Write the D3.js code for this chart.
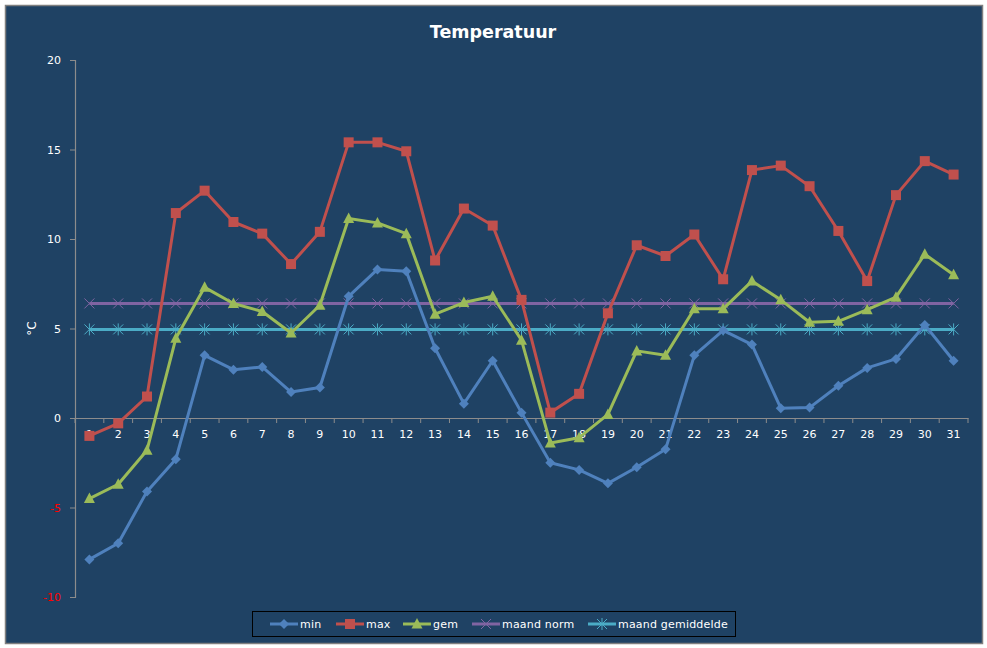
<!DOCTYPE html>
<html>
<head>
<meta charset="utf-8">
<script src="https://cdn.jsdelivr.net/npm/d3@7"></script>
<style>
  body { margin: 0; background: #fff; }
  svg text { font-family: "DejaVu Sans", Verdana, sans-serif; fill: #fff; }
</style>
</head>
<body>
<div id="chart"></div>
<script>
// Temperatuur per dag van de maand
const days = d3.range(1, 32).map(String);
const minTemp = [-7.9, -7.0, -4.1, -2.3, 3.5, 2.7, 2.85, 1.45, 1.7, 6.8, 8.3, 8.2, 3.9, 0.8, 3.2, 0.3,
    -2.5, -2.9, -3.65, -2.75, -1.75, 3.5, 4.9, 4.1, 0.55, 0.58, 1.8, 2.8, 3.3, 5.2, 3.2];
const maxTemp = [-1.0, -0.3, 1.2, 11.45, 12.7, 10.95, 10.3, 8.6, 10.4, 15.4, 15.4, 14.9, 8.8, 11.7, 10.75, 6.6,
    0.3, 1.35, 5.85, 9.65, 9.05, 10.25, 7.75, 13.85, 14.1, 12.95, 10.45, 7.65, 12.45, 14.35, 13.6];
const gemTemp = [-4.5, -3.7, -1.8, 4.45, 7.3, 6.4, 5.95, 4.75, 6.3, 11.15, 10.9, 10.3, 5.8, 6.45, 6.8, 4.35,
    -1.4, -1.1, 0.2, 3.75, 3.5, 6.1, 6.1, 7.65, 6.6, 5.35, 5.4, 6.05, 6.75, 9.15, 8.0];
const maandNorm = days.map(() => 6.4);
const maandGem = days.map(() => 4.95);
const yTicks = [-10, -5, 0, 5, 10, 15, 20];

const series = [
    { name: "min", values: minTemp, color: "#4F81BD", marker: "diamond" },
    { name: "max", values: maxTemp, color: "#C0504D", marker: "square" },
    { name: "gem", values: gemTemp, color: "#9BBB59", marker: "triangle" },
    { name: "maand norm", values: maandNorm, color: "#8064A2", marker: "cross" },
    { name: "maand gemiddelde", values: maandGem, color: "#4BACC6", marker: "star" }
];

const W = 987, H = 648;
const svg = d3.select("#chart").append("svg").attr("width", W).attr("height", H);

svg.append("rect")
    .attr("x", 5.5).attr("y", 5.5).attr("width", 977).attr("height", 638)
    .attr("fill", "#1F4264").attr("stroke", "#7F7F7F").attr("stroke-width", 1.5);

svg.append("text")
    .attr("x", 493).attr("y", 38)
    .attr("text-anchor", "middle")
    .style("font-size", "17.5px").style("font-weight", "bold")
    .text("Temperatuur");

const plotLeft = 75, plotRight = 968, plotTop = 60, plotBottom = 597;
const x = d3.scaleBand().domain(days).range([plotLeft, plotRight]);
const y = d3.scaleLinear().domain([-10, 20]).range([plotBottom, plotTop]);
const cx = d => x(d) + x.bandwidth() / 2;

const axisColor = "#8C8C8C";

// Y axis
const yAxis = svg.append("g")
    .attr("transform", `translate(${plotLeft},0)`)
    .call(d3.axisLeft(y).tickValues(yTicks).tickFormat(d => String(d)).tickSize(5).tickPadding(9));
yAxis.select(".domain").attr("stroke", axisColor).attr("stroke-width", 1.2);
yAxis.selectAll(".tick line").attr("stroke", axisColor);
yAxis.selectAll(".tick text")
    .style("font-size", "11px")
    .style("fill", d => d < 0 ? "#FF0000" : "#fff");

svg.append("text")
    .attr("transform", `translate(36,${y(5)}) rotate(-90)`)
    .attr("text-anchor", "middle")
    .style("font-size", "12px")
    .text("°C");

// X axis at zero
const xAxis = svg.append("g")
    .attr("transform", `translate(0,${y(0)})`)
    .call(d3.axisBottom(x).tickSize(0).tickPadding(12));
xAxis.select(".domain").attr("stroke", axisColor).attr("stroke-width", 1.2);
xAxis.selectAll(".tick text").style("font-size", "11px");
svg.append("g").selectAll("line")
    .data(days.concat(["end"]))
    .join("line")
    .attr("x1", (d, i) => plotLeft + i * x.bandwidth())
    .attr("x2", (d, i) => plotLeft + i * x.bandwidth())
    .attr("y1", y(0)).attr("y2", y(0) + 5)
    .attr("stroke", axisColor);

// Lines and markers
const line = d3.line().x((d, i) => cx(days[i])).y(d => y(d));

function drawMarker(g, type, color) {
    if (type === "diamond") {
        g.append("path").attr("d", "M0,-5L5,0L0,5L-5,0Z").attr("fill", color);
    } else if (type === "square") {
        g.append("rect").attr("x", -5).attr("y", -5).attr("width", 10).attr("height", 10).attr("fill", color);
    } else if (type === "triangle") {
        g.append("path").attr("d", "M0,-6L5.5,4.5L-5.5,4.5Z").attr("fill", color);
    } else if (type === "cross") {
        g.append("path").attr("d", "M-5,-5L5,5M-5,5L5,-5").attr("stroke", color).attr("stroke-width", 1);
    } else if (type === "star") {
        g.append("path").attr("d", "M-5,-5L5,5M-5,5L5,-5M0,-6L0,6").attr("stroke", color).attr("stroke-width", 1);
    }
}

const drawOrder = [3, 4, 0, 1, 2];
drawOrder.forEach(k => {
    const s = series[k];
    svg.append("path")
        .datum(s.values)
        .attr("fill", "none")
        .attr("stroke", s.color)
        .attr("stroke-width", 3)
        .attr("stroke-linejoin", "round")
        .attr("d", line);
    s.values.forEach((v, i) => {
        const g = svg.append("g").attr("transform", `translate(${cx(days[i])},${y(v)})`);
        drawMarker(g, s.marker, s.color);
    });
});

// Legend
const legend = svg.append("g");
legend.append("rect")
    .attr("x", 252.5).attr("y", 611.5).attr("width", 483).attr("height", 25)
    .attr("fill", "none").attr("stroke", "#000").attr("stroke-width", 1);
const legendX = [270, 336, 403, 472, 588];
series.forEach((s, i) => {
    const lx = legendX[i], ly = 624;
    legend.append("line")
        .attr("x1", lx).attr("x2", lx + 28)
        .attr("y1", ly).attr("y2", ly)
        .attr("stroke", s.color).attr("stroke-width", 3);
    const g = legend.append("g").attr("transform", `translate(${lx + 14},${ly})`);
    drawMarker(g, s.marker, s.color);
    legend.append("text")
        .attr("x", lx + 30).attr("y", ly + 4)
        .style("font-size", "11px")
        .style("letter-spacing", "0.2px")
        .text(s.name);
});
</script>
</body>
</html>
